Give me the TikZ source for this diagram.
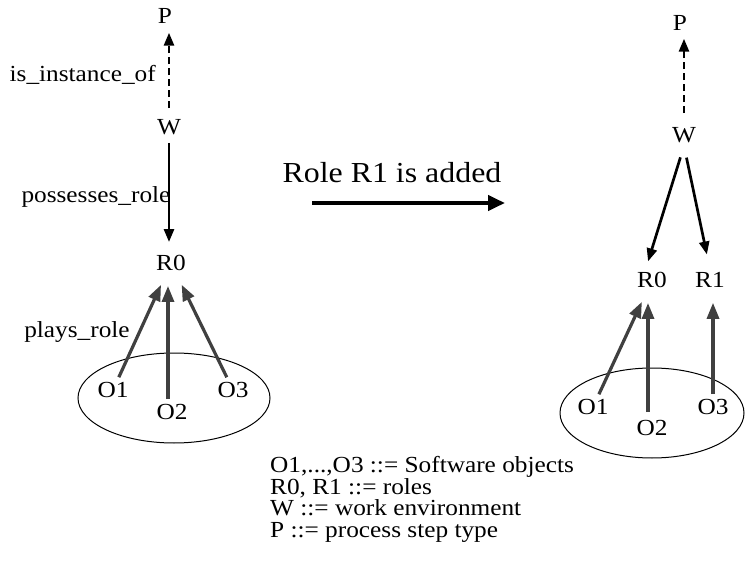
\documentclass[tikz,border=0pt]{standalone}
\usepackage{fontspec}
\setmainfont{Liberation Serif}[FakeStretch=1.1]
\usetikzlibrary{arrows.meta}
\usetikzlibrary{positioning}

\tikzset{
  txt/.style={font=\fontsize{23}{27}\selectfont, inner sep=2pt},
  obj/.style={txt, inner sep=3pt},
  link/.style={line width=2.7pt, -{Triangle[length=13pt,width=10pt]}},
  inst/.style={link, dash pattern=on 7pt off 4pt},
  plays/.style={line width=3.2pt, draw=black!75, -{Triangle[length=16pt,width=12pt]},
    shorten >=12pt, shorten <=2pt}
}

\begin{document}
\begin{tikzpicture}[x=1pt,y=-1pt]
\useasboundingbox (0,0) rectangle (745,567);

% before
\node[obj] (lP) at (165,16) {P};
\node[obj] (lW) at (169,127) {W};
\node[obj] (lR0) at (171,263) {R0};
\node[obj] (lO1) at (113,390) {O1};
\node[obj] (lO2) at (172,412) {O2};
\node[obj] (lO3) at (233,390) {O3};
\draw[line width=1pt] (174,398) ellipse (96 and 45);
\draw[inst, shorten <=8pt, shorten >=6pt] (lW) -- (lW |- lP.south);
\draw[link, shorten <=5pt, shorten >=10pt] (lW.south) -- (lW.south |- lR0.north);
\draw[plays] (lO1) -- (lR0);
\draw[plays] ([xshift=-4pt]lO2.north) -- ([xshift=-4pt]lO2.north |- lR0.south);
\draw[plays] (lO3) -- (lR0);
\node[txt, anchor=east] (inst) at (158,75) {is\_instance\_of};
\node[txt] (poss) at (96,197) {possesses\_role};
\node[txt] (plays) at (77,332) {plays\_role};

% change
\node[txt, font=\fontsize{29}{33}\selectfont] (chg) at (392,173) {Role R1 is added};
\coordinate (ca) at (312,203);
\coordinate (cb) at (505,203);
\draw[line width=4pt, -{Triangle[length=17pt,width=15pt]}] (ca) -- (cb);

% after
\node[obj] (rP) at (680,23) {P};
\node[obj] (rW) at (684,135) {W};
\node[obj] (rR0) at (652,280) {R0};
\node[obj] (rR1) at (710,280) {R1};
\node[obj] (rO1) at (593,407) {O1};
\node[obj] (rO2) at (652,428) {O2};
\node[obj] (rO3) at (713,407) {O3};
\draw[line width=1pt] (652,413) ellipse (92 and 45);
\draw[inst, shorten <=11pt, shorten >=5pt] (rW) -- (rW |- rP.south);
\draw[link, shorten <=12pt, shorten >=8pt] (rW.south) -- (rR0.120);
\draw[link, shorten <=12pt, shorten >=15pt] (rW.south) -- (rR1.north);
\draw[plays] (rO1) -- (rR0);
\draw[plays, shorten <=5pt] ([xshift=-4pt]rO2.north) -- ([xshift=-4pt]rO2.north |- rR0.south);
\draw[plays] (rO3) -- (rO3 |- rR1.south);

% legend
\node[txt, font=\fontsize{23}{21.7}\selectfont, align=left, anchor=north west] (key) at (268,454)
  {O1,...,O3 ::= Software objects\\
   R0, R1 ::= roles\\
   W ::= work environment\\
   P ::= process step type};
\end{tikzpicture}
\end{document}
